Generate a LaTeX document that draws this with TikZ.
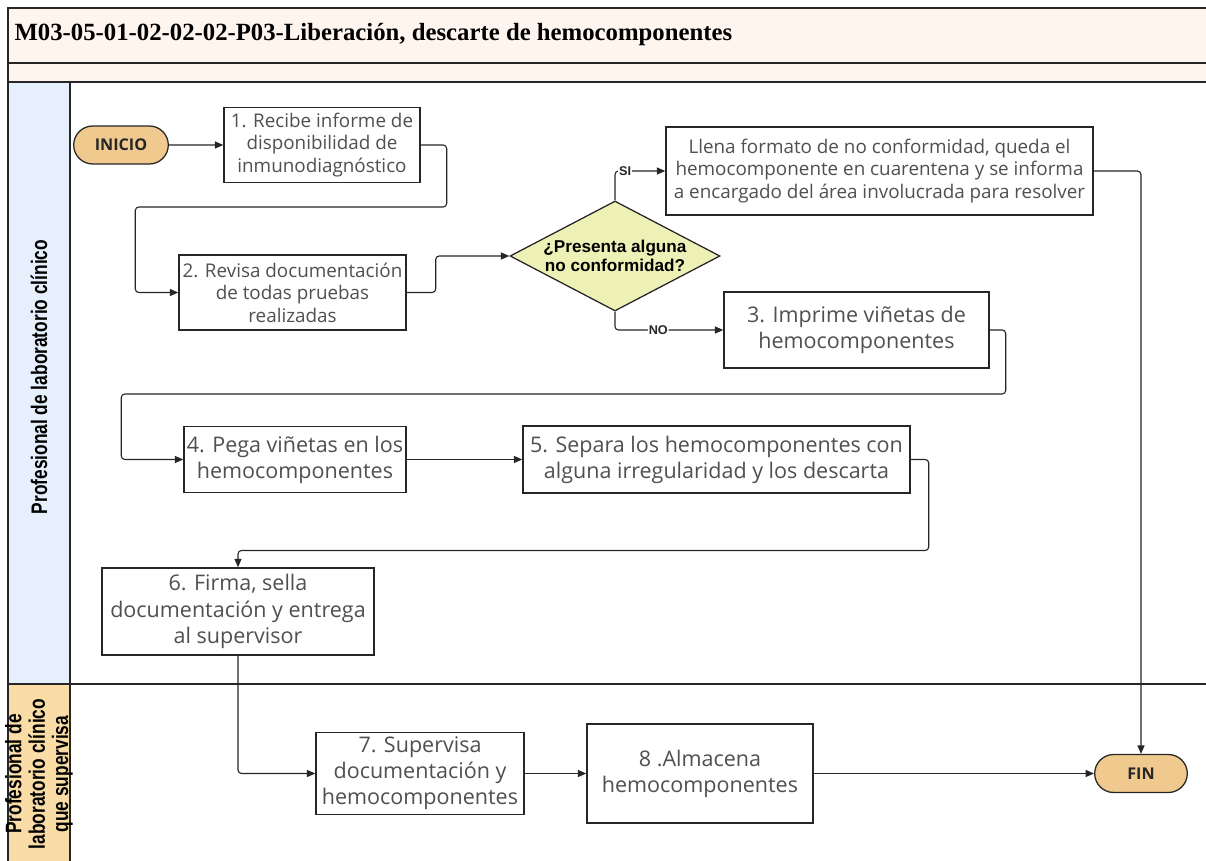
\documentclass[tikz,border=0pt]{standalone}
\usepackage{fontspec}
\setmainfont{Open Sans}
\newfontfamily\titulofont{Liberation Serif}
\newfontfamily\carrilfont{Liberation Sans}
\usepackage{tikz}
\usetikzlibrary{arrows.meta, positioning, calc, shapes.geometric, shapes.misc}

\newdimen\pxu \pxu=0.025cm
\definecolor{fondotit}{HTML}{FEF6EE}
\definecolor{carrilA}{HTML}{E6F0FC}
\definecolor{carrilB}{HTML}{FADDA6}
\definecolor{terminal}{HTML}{F0C98E}
\definecolor{decis}{HTML}{EEF1B6}
\definecolor{txt}{HTML}{505050}
\definecolor{borde}{HTML}{262626}

\begin{document}
\begin{tikzpicture}[
      x=0.025cm, y=-0.025cm,
      blk/.style = {draw=borde, line width=1pt, fill=white, align=center, text=txt,
                    inner sep=1pt, font=\fontsize{13.4}{16}\selectfont},
      blkg/.style = {blk, font=\fontsize{15.3}{18.6}\selectfont},
      ter/.style = {rounded rectangle, draw=borde, line width=0.9pt, fill=terminal,
                    text=black!85, font=\bfseries\fontsize{11.5}{13}\selectfont,
                    minimum width=98\pxu, minimum height=38\pxu},
      dec/.style = {diamond, draw=borde, line width=0.9pt, fill=decis,
                    minimum width=210\pxu, minimum height=110\pxu, inner sep=0pt},
      dectxt/.style = {align=center, font=\carrilfont\bfseries\fontsize{12.2}{13.5}\selectfont},
      etq/.style = {fill=white, inner sep=0.6pt, font=\carrilfont\bfseries\fontsize{9}{10}\selectfont},
      carril/.style = {rotate=90, align=center, font=\carrilfont\bfseries\fontsize{16}{16.4}\selectfont},
      >={Triangle[length=6pt,width=5pt]}, line width=0.8pt
    ]
    \useasboundingbox (0,0) rectangle (1206,861);
    % marco, titulo y carriles
    \fill[fondotit] (8,8) rectangle (1215,82);
    \fill[carrilA] (8,82) rectangle (70,684);
    \fill[carrilB] (8,684) rectangle (70,861);
    \draw[borde, line width=1.1pt] (1215,8) -- (8,8) -- (8,870);
    \draw[borde] (8,63) -- (1215,63);
    \draw[borde] (8,82) -- (1215,82);
    \draw[borde] (8,684) -- (1215,684);
    \draw[borde] (70,82) -- (70,870);
    \node[anchor=west, inner sep=0pt, font=\titulofont\bfseries\fontsize{17.6}{20}\selectfont]
      (titulo) at (14,35) {M03-05-01-02-02-02-P03-Liberación, descarte de hemocomponentes};
    \node[carril] (carril1) at (39,377) {\scalebox{0.77}[1]{Profesional de laboratorio clínico}};
    \node[carril] (carril2) at (40,774) {\scalebox{0.77}[1]{\begin{tabular}{@{}c@{}}Profesional de\\laboratorio clínico\\que supervisa\end{tabular}}};
    % carril superior
    \node[ter, minimum width=104\pxu] (inicio) at (121,145) {INICIO};
    \node[blk, minimum width=196\pxu, minimum height=75\pxu] (p1) at (322,145)
      {1. Recibe informe de\\disponibilidad de\\inmunodiagnóstico};
    \node[blk, minimum width=227\pxu, minimum height=75\pxu] (p2) at (292.5,292.5)
      {2. Revisa documentación\\de todas pruebas\\realizadas};
    \node[dec, label={[dectxt]center:¿Presenta alguna\\no conformidad?}] (pregunta) at (615,256) {};
    \node[blk, minimum width=427\pxu, minimum height=88\pxu] (nc) at (879.5,171)
      {Llena formato de no conformidad, queda el\\hemocomponente en cuarentena y se informa\\a encargado del área involucrada para resolver};
    \node[blkg, minimum width=265\pxu, minimum height=76\pxu] (p3) at (856.5,330)
      {3. Imprime viñetas de\\hemocomponentes};
    \node[blkg, minimum width=222\pxu, minimum height=66\pxu] (p4) at (295,459.5)
      {4. Pega viñetas en los\\hemocomponentes};
    \node[blkg, minimum width=387\pxu, minimum height=67\pxu] (p5) at (716.5,459.5)
      {5. Separa los hemocomponentes con\\alguna irregularidad y los descarta};
    \node[blkg, minimum width=272\pxu, minimum height=87\pxu] (p6) at (238,611.5)
      {6. Firma, sella\\documentación y entrega\\al supervisor};
    % carril inferior
    \node[blkg, minimum width=208\pxu, minimum height=82\pxu] (p7) at (420,773.5)
      {7. Supervisa\\documentación y\\hemocomponentes};
    \node[blkg, minimum width=226\pxu, minimum height=99\pxu] (p8) at (700,773.5)
      {8 .Almacena\\hemocomponentes};
    \node[ter, minimum width=102\pxu] (fin) at (1141,773.5) {FIN};
    % conexiones
    \begin{scope}[borde, rounded corners=2.5pt]
    \draw[->] (inicio) -- (p1);
    \draw[->] (p1.east) -- ++(26,0) -- ++(0,62) -| ($(p2.west)+(-43,0)$) -- (p2.west);
    \draw[->] (p2.east) -- ++(29,0) |- (pregunta.west);
    \draw[->] (pregunta.north) |- node[etq, pos=0.6]{SI} (nc.west);
    \draw[->] (pregunta.south) |- node[etq, pos=0.7]{NO} (p3.west);
    \draw[->] (p3.east) -- ++(16,0) -- ++(0,64) -| ($(p4.west)+(-62,0)$) -- (p4.west);
    \draw[->] (p4) -- (p5);
    \draw[->] (p5.east) -- ++(18,0) -- ++(0,91) -| (p6.north);
    \draw[->] (p6.south) |- (p7.west);
    \draw[->] (p7) -- (p8);
    \draw[->] (p8) -- (fin);
    \draw[->] (nc.east) -| (fin.north);
    \end{scope}
  \end{tikzpicture}
\end{document}
